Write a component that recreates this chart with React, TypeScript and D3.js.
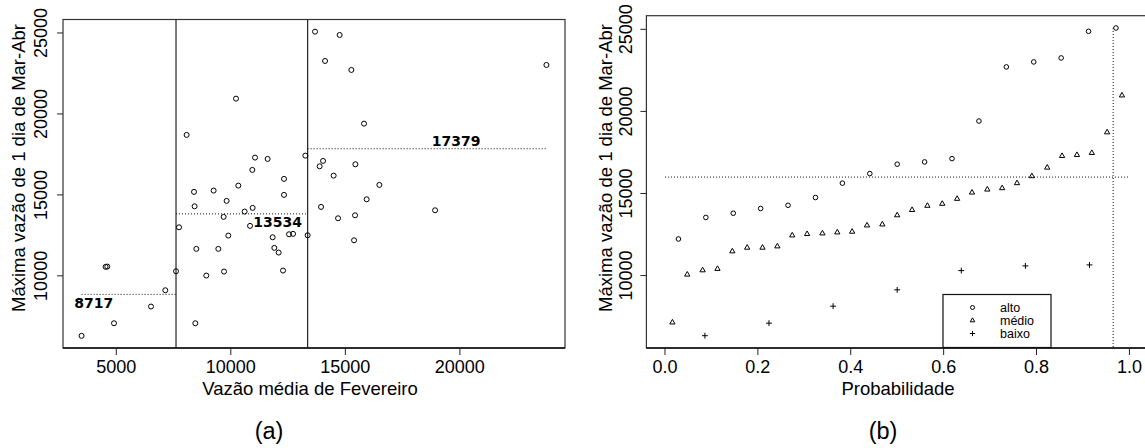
import * as d3 from 'd3'

// panel (a): Feb mean flow vs max 1-day flow Mar-Apr
const febFlow = [
  3485, 4533, 4607, 4900, 6515, 7140, 7607,
  8070, 10227, 8393, 8419, 9249, 9817, 10328, 11057, 10939, 11607, 12323, 12323, 10603, 10952, 9686,
  7738, 9891, 10839, 11826, 12542, 12717, 8494, 9454, 11900, 12088, 8930, 9703, 12280, 8450, 13254, 13354,
  13677, 14751, 14114, 15262, 23778, 15817, 14027, 13878, 15437, 14489, 16485, 15931, 13939, 15424, 18918, 14682, 15380,
]
const maxFlow = [
  6296, 10556, 10574, 7074, 8105, 9111, 10284,
  18704, 20945, 15185, 14296, 15266, 14630, 15574, 17303, 16543, 17222, 15988, 15000, 13969, 14198, 13642,
  13000, 12488, 13087, 12383, 12568, 12593, 11667, 11667, 11728, 11438, 10019, 10265, 10327, 7074, 17426, 12506,
  25081, 24877, 23272, 22716, 23025, 19401, 17099, 16766, 16889, 16192, 15617, 14729, 14259, 13741, 14050, 13556, 12198,
]
const splits = [7607, 13354]
const meanLabels = ['8717', '13534', '17379']
const meanLabelX = [3166, 10981, 18770]
const meanLabelDy = [14, 13, -3]

// panel (b): empirical probabilities per class
const altoProb = [0.029, 0.088, 0.147, 0.206, 0.265, 0.324, 0.382, 0.441, 0.5, 0.559, 0.618, 0.676, 0.735, 0.794, 0.853, 0.912, 0.971]
const altoVal = [12229, 13541, 13796, 14087, 14281, 14755, 15630, 16213, 16784, 16923, 17124, 19413, 22711, 23014, 23257, 24879, 25080]
const medioProb = [
  0.016, 0.048, 0.081, 0.113, 0.145, 0.177, 0.21, 0.242, 0.274, 0.306, 0.339, 0.371, 0.403, 0.435, 0.468, 0.5,
  0.532, 0.565, 0.597, 0.629, 0.661, 0.694, 0.726, 0.758, 0.79, 0.823, 0.855, 0.887, 0.919, 0.952, 0.984,
]
const medioVal = [
  7146, 10061, 10322, 10407, 11476, 11700, 11700, 11779, 12447, 12532, 12569, 12630, 12672, 13055, 13115, 13674,
  13996, 14251, 14373, 14676, 15059, 15241, 15326, 15630, 16055, 16577, 17288, 17348, 17470, 18727, 20974,
]
const baixoProb = [0.086, 0.224, 0.362, 0.5, 0.638, 0.776, 0.914]
const baixoVal = [6338, 7103, 8136, 9132, 10304, 10589, 10650]
const refLevel = 16000
const refProb = 0.965
const legendItems = ['alto', 'médio', 'baixo']

const xTicksA = [5000, 10000, 15000, 20000]
const yTicks = [10000, 15000, 20000, 25000]
const xTicksB = [0, 0.2, 0.4, 0.6, 0.8, 1.0]

const font = "'Liberation Sans', Arial, sans-serif"
const bold = "'DejaVu Sans', Verdana, sans-serif"
const tickSize = 18
const titleSize = 18.5

const padded = (vals: number[]): [number, number] => {
  const [lo, hi] = d3.extent(vals) as [number, number]
  const r = hi - lo
  return [lo - 0.04 * r, hi + 0.04 * r]
}

const tri = (d3 as any).symbolTriangle2 || d3.symbolTriangle
const plus = (d3 as any).symbolPlus || d3.symbolCross
const triPath = d3.symbol().type(tri).size(20)()!
const plusPath = d3.symbol().type(plus).size(13)()!
const triSmall = d3.symbol().type(tri).size(15)()!
const plusSmall = d3.symbol().type(plus).size(10.5)()!

const YAxis = ({ y, x0, labelX, ticks }: any) => (
  <g>
    {ticks.map((t: number) => (
      <g key={t}>
        <line x1={x0 - 6} x2={x0} y1={y(t)} y2={y(t)} stroke='#222' />
        <text
          transform={`translate(${labelX},${y(t)}) rotate(-90)`}
          textAnchor='middle'
          fontSize={tickSize}
          fontFamily={font}
        >{t}</text>
      </g>
    ))}
  </g>
)

const XAxis = ({ x, y0, ticks, fmt }: any) => (
  <g>
    {ticks.map((t: number) => (
      <g key={t}>
        <line x1={x(t)} x2={x(t)} y1={y0} y2={y0 + 7} stroke='#222' />
        <text x={x(t)} y={373} textAnchor='middle' fontSize={tickSize} fontFamily={font}>{fmt(t)}</text>
      </g>
    ))}
  </g>
)

const PanelA = () => {
  const x = d3.scaleLinear().domain(padded(febFlow)).range([63, 565])
  const y = d3.scaleLinear().domain(padded(maxFlow)).range([348, 19.5])
  const pts = febFlow.map((f, i) => ({ f, m: maxFlow[i] }))
  const [xlo, xhi] = d3.extent(febFlow) as [number, number]
  const bounds = [xlo, ...splits, xhi]
  const groups = [0, 1, 2].map(g => pts.filter(p =>
    g === 0 ? p.f <= splits[0] : g === 1 ? p.f > splits[0] && p.f <= splits[1] : p.f > splits[1]))
  const means = groups.map(g => d3.mean(g, p => p.m) as number)

  return (
    <g>
      <rect x={63} y={19.5} width={502} height={328.5} fill='none' stroke='#333' strokeWidth={1.2} />
      <line x1={63} x2={565} y1={348} y2={348} stroke='#111' strokeWidth={1.4} />
      {splits.map(s => (
        <line key={s} x1={x(s)} x2={x(s)} y1={19.5} y2={348} stroke='#222' strokeWidth={1.2} />
      ))}
      {means.map((m, i) => (
        <g key={i}>
          <line x1={x(bounds[i])} x2={x(bounds[i + 1])} y1={y(m)} y2={y(m)}
            stroke='#111' strokeDasharray='1,2' />
          <text x={x(meanLabelX[i])} y={y(m) + meanLabelDy[i]} fontFamily={bold}
            fontWeight='bold' fontSize={14}>{meanLabels[i]}</text>
        </g>
      ))}
      {pts.map((p, i) => (
        <circle key={i} cx={x(p.f)} cy={y(p.m)} r={2.5} fill='none' stroke='#000' strokeWidth={1} />
      ))}
      <YAxis y={y} x0={63} labelX={46.5} ticks={yTicks} />
      <XAxis x={x} y0={348} ticks={xTicksA} fmt={(t: number) => t} />
      <text x={310} y={395} textAnchor='middle' fontSize={titleSize} fontFamily={font}>Vazão média de Fevereiro</text>
      <text transform={`translate(25,168) rotate(-90)`} textAnchor='middle' fontSize={titleSize}
        fontFamily={font}>Máxima vazão de 1 dia de Mar-Abr</text>
      <text x={269} y={439} textAnchor='middle' fontSize={23.5} fontFamily={font}>(a)</text>
    </g>
  )
}

const PanelB = () => {
  const x = d3.scaleLinear().domain([-0.04, 1.04]).range([646.4, 1148])
  const y = d3.scaleLinear().domain(padded([...altoVal, ...medioVal, ...baixoVal])).range([348, 15.7])
  const fmt = d3.format('.1f')
  const top = d3.max(altoVal) as number
  const lx = 943, ly = 294.5, lw = 108, lh = 53

  return (
    <g>
      <rect x={646.4} y={15.7} width={520} height={332.3} fill='none' stroke='#333' strokeWidth={1.2} />
      <line x1={646.4} x2={1145} y1={348} y2={348} stroke='#111' strokeWidth={1.4} />
      <line x1={x(0)} x2={x(1)} y1={y(refLevel)} y2={y(refLevel)} stroke='#111' strokeDasharray='1,2' />
      <line x1={x(refProb)} x2={x(refProb)} y1={y(top)} y2={348} stroke='#111' strokeDasharray='1,2' />
      {altoProb.map((p, i) => (
        <circle key={'a' + i} cx={x(p)} cy={y(altoVal[i])} r={2.3} fill='none' stroke='#000' />
      ))}
      {medioProb.map((p, i) => (
        <path key={'m' + i} d={triPath} transform={`translate(${x(p)},${y(medioVal[i])})`}
          fill='none' stroke='#000' />
      ))}
      {baixoProb.map((p, i) => (
        <path key={'b' + i} d={plusPath} transform={`translate(${x(p)},${y(baixoVal[i])})`}
          fill='none' stroke='#000' />
      ))}
      <rect x={lx} y={ly} width={lw} height={lh} fill='#fff' stroke='#111' strokeWidth={1.2} />
      {legendItems.map((name, i) => {
        const cy = ly + 13 + i * 13
        return (
          <g key={name}>
            {i === 0 && <circle cx={lx + 29.5} cy={cy} r={2} fill='none' stroke='#000' />}
            {i === 1 && <path d={triSmall} transform={`translate(${lx + 29.5},${cy})`} fill='none' stroke='#000' />}
            {i === 2 && <path d={plusSmall} transform={`translate(${lx + 29.5},${cy})`} fill='none' stroke='#000' />}
            <text x={lx + 57} y={cy + 4} fontSize={12.5} fontFamily={font}>{name}</text>
          </g>
        )
      })}
      <YAxis y={y} x0={646.4} labelX={632} ticks={yTicks} />
      <XAxis x={x} y0={348} ticks={xTicksB} fmt={fmt} />
      <text x={898} y={395} textAnchor='middle' fontSize={titleSize} fontFamily={font}>Probabilidade</text>
      <text transform={`translate(612,168) rotate(-90)`} textAnchor='middle' fontSize={titleSize}
        fontFamily={font}>Máxima vazão de 1 dia de Mar-Abr</text>
      <text x={883} y={439} textAnchor='middle' fontSize={23.5} fontFamily={font}>(b)</text>
    </g>
  )
}

export default function App() {
  return (
    <svg width={1145} height={448} style={{ position: 'absolute', left: 0, top: 0, background: '#fff' }}>
      <PanelA />
      <PanelB />
    </svg>
  )
}
